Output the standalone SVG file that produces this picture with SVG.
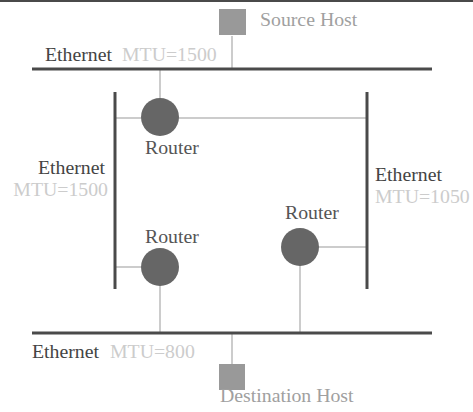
<svg xmlns="http://www.w3.org/2000/svg" width="473" height="412" viewBox="0 0 473 412">
  <style>
    text { font-family: "Liberation Serif", "Times New Roman", serif; font-size: 19.8px; }
    .bus { stroke: #4a4a4a; stroke-width: 3; fill: none; }
    .link { stroke: #cccccc; stroke-width: 2; fill: none; }
    .router { fill: #666666; }
    .host { fill: #999999; }
    .net { fill: #444444; }
    .mtu { fill: #cccccc; }
    .rlabel { fill: #555555; }
    .hlabel { fill: #a0a0a0; }
  </style>
  <rect width="473" height="412" fill="#ffffff"/>
  <line x1="0" y1="1" x2="473" y2="1" stroke="#4a4a4a" stroke-width="2"/>

  <!-- links between buses, routers and hosts -->
  <g id="connectors">
    <line class="link" x1="232" y1="36" x2="232" y2="68"/>
    <line class="link" x1="160" y1="70" x2="160" y2="100"/>
    <line class="link" x1="116" y1="118" x2="366" y2="118"/>
    <line class="link" x1="116" y1="267" x2="145" y2="267"/>
    <line class="link" x1="160" y1="280" x2="160" y2="332"/>
    <line class="link" x1="310" y1="247" x2="366" y2="247"/>
    <line class="link" x1="300" y1="260" x2="300" y2="332"/>
    <line class="link" x1="232" y1="334" x2="232" y2="364"/>
  </g>

  <g id="ethernet-top">
    <line class="bus" x1="32" y1="69" x2="432" y2="69"/>
    <text class="net" x="45" y="61">Ethernet</text>
    <text class="mtu" x="122" y="61">MTU=1500</text>
  </g>
  <g id="ethernet-left">
    <line class="bus" x1="115" y1="92" x2="115" y2="289"/>
    <text class="net" x="105" y="174" text-anchor="end">Ethernet</text>
    <text class="mtu" x="108" y="196" text-anchor="end">MTU=1500</text>
  </g>
  <g id="ethernet-right">
    <line class="bus" x1="367" y1="92" x2="367" y2="289"/>
    <text class="net" x="375" y="181">Ethernet</text>
    <text class="mtu" x="375" y="203">MTU=1050</text>
  </g>
  <g id="ethernet-bottom">
    <line class="bus" x1="32" y1="333" x2="432" y2="333"/>
    <text class="net" x="32" y="358">Ethernet</text>
    <text class="mtu" x="110" y="358">MTU=800</text>
  </g>

  <g id="source-host">
    <rect class="host" x="219" y="9" width="27" height="26"/>
    <text class="hlabel" x="260" y="26">Source Host</text>
  </g>
  <g id="destination-host">
    <rect class="host" x="219" y="364" width="26" height="26"/>
    <text class="hlabel" x="220" y="402">Destination Host</text>
  </g>

  <g id="router-top">
    <circle class="router" cx="160" cy="117" r="19"/>
    <text class="rlabel" x="145" y="154">Router</text>
  </g>
  <g id="router-bottom-left">
    <circle class="router" cx="160" cy="267" r="19"/>
    <text class="rlabel" x="145" y="243">Router</text>
  </g>
  <g id="router-right">
    <circle class="router" cx="300" cy="247" r="19"/>
    <text class="rlabel" x="285" y="219">Router</text>
  </g>
</svg>
